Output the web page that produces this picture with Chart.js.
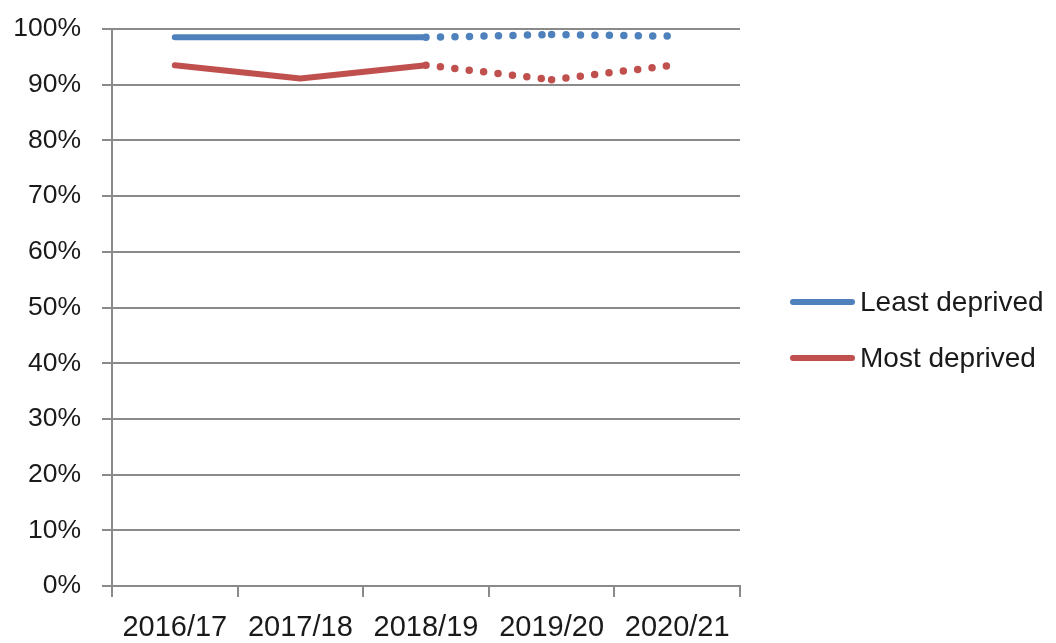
<!DOCTYPE html>
<html>
<head>
<meta charset="utf-8">
<script src="https://cdn.jsdelivr.net/npm/chart.js@4.4.1/dist/chart.umd.min.js"></script>
<style>
  html, body { margin: 0; padding: 0; background: #fff; }
  #wrap { width: 1056px; height: 643px; }
</style>
</head>
<body>
<div id="wrap"><canvas id="chart" width="1056" height="643"></canvas></div>
<script>
// --- data ---
const years = ['2016/17', '2017/18', '2018/19', '2019/20', '2020/21'];
const leastDeprived = [98.5, 98.5, 98.5, 99.0, 98.7];
const mostDeprived = [93.5, 91.1, 93.5, 90.9, 93.6];
const yTicks = [0, 10, 20, 30, 40, 50, 60, 70, 80, 90, 100];

const BLUE = '#4F81BD';
const RED = '#C0504D';
const GRID = '#8a8a8a';
const TEXT = '#1a1a1a';
const FONT = '"Liberation Sans", Arial, sans-serif';

// projected years (from 2018/19 on) are dotted; split at 2019/20 like the original
function dotted(ctx) {
  if (ctx.p0DataIndex === 2) return [0, 14.5];
  if (ctx.p0DataIndex >= 3) return [0, 14.45];
  return undefined;
}
function dotWidth(ctx) {
  return ctx.p0DataIndex >= 2 ? 7.5 : 6;
}

// legend drawn at the right, line marker + label
const sideLegend = {
  id: 'sideLegend',
  afterDraw(chart) {
    const c = chart.ctx;
    const x0 = chart.chartArea.right + 50;
    const yMid = 330;
    chart.data.datasets.forEach((ds, i) => {
      const y = yMid - 28 + i * 56;
      c.save();
      c.strokeStyle = ds.borderColor;
      c.lineWidth = 6;
      c.lineCap = 'round';
      c.beginPath();
      c.moveTo(x0 + 3, y);
      c.lineTo(x0 + 62, y);
      c.stroke();
      c.fillStyle = TEXT;
      c.font = '28px ' + FONT;
      c.textBaseline = 'middle';
      c.fillText(ds.label, x0 + 70, y + 1);
      c.restore();
    });
  }
};

new Chart(document.getElementById('chart'), {
  type: 'line',
  data: {
    labels: years,
    datasets: [
      {
        label: 'Least deprived',
        data: leastDeprived,
        borderColor: BLUE,
        backgroundColor: BLUE,
        borderWidth: 6,
        borderCapStyle: 'round',
        borderJoinStyle: 'round',
        pointRadius: 0,
        tension: 0,
        segment: { borderDash: dotted, borderWidth: dotWidth }
      },
      {
        label: 'Most deprived',
        data: mostDeprived,
        borderColor: RED,
        backgroundColor: RED,
        borderWidth: 6,
        borderCapStyle: 'round',
        borderJoinStyle: 'round',
        pointRadius: 0,
        tension: 0,
        segment: { borderDash: dotted, borderWidth: dotWidth }
      }
    ]
  },
  options: {
    responsive: false,
    animation: false,
    events: [],
    layout: { padding: { top: 29, right: 316, left: 0, bottom: 0 } },
    plugins: {
      legend: { display: false },
      tooltip: { enabled: false }
    },
    scales: {
      x: {
        offset: true,
        grid: { display: true, offset: true, drawOnChartArea: false, color: GRID, lineWidth: 2, tickLength: 11 },
        border: { display: true, color: GRID, width: 2 },
        ticks: { color: TEXT, font: { family: FONT, size: 29 }, padding: 14, maxRotation: 0, autoSkip: false },
        afterFit(scale) { scale.height = 57; }
      },
      y: {
        min: 0,
        max: 100,
        afterBuildTicks(scale) { scale.ticks = yTicks.map(v => ({ value: v })); },
        grid: { color: GRID, lineWidth: 2, tickLength: 10 },
        border: { display: true, color: GRID, width: 2 },
        ticks: { color: TEXT, font: { family: FONT, size: 26.5 }, padding: 21, callback: v => v + '%' },
        afterFit(scale) {
          scale.width = 112;
          scale.paddingTop = 0;
          scale.paddingBottom = 0;
        }
      }
    }
  },
  plugins: [sideLegend]
});
</script>
</body>
</html>
